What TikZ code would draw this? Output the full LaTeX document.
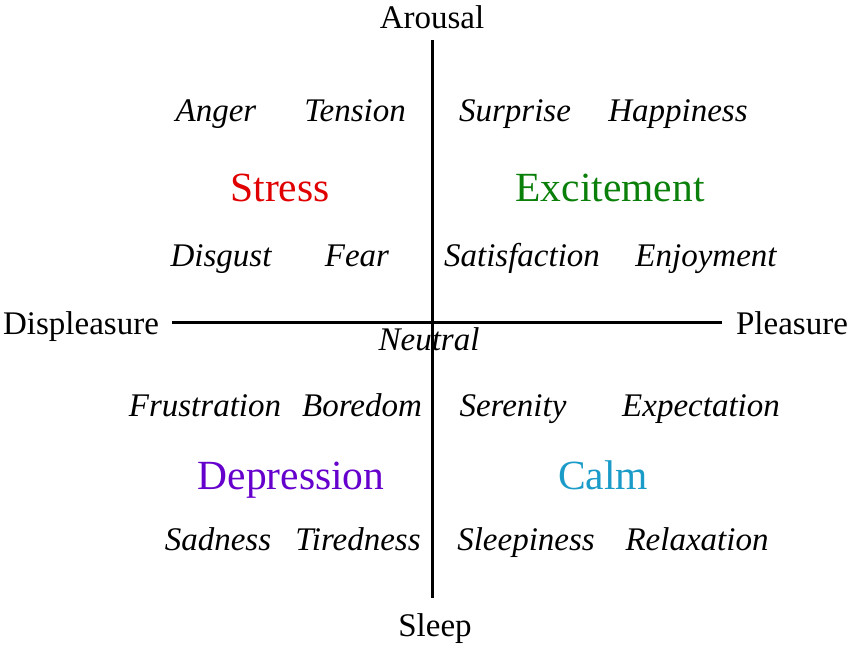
\documentclass[tikz,border=0pt]{standalone}
\usepackage{fontspec}
\setmainfont{Liberation Serif}
\definecolor{cstress}{HTML}{E00000}
\definecolor{cexcite}{HTML}{0A800A}
\definecolor{cdep}{HTML}{6600CC}
\definecolor{ccalm}{HTML}{1A9BC8}
\begin{document}
\begin{tikzpicture}[x=1pt,y=-1pt,
  lab/.style={font=\fontsize{33}{40}\selectfont, inner sep=0pt, anchor=base},
  emo/.style={font=\fontsize{33}{40}\selectfont\itshape, inner sep=0pt, anchor=base},
  big/.style={font=\fontsize{41.5}{50}\selectfont, inner sep=0pt, anchor=base},
  axis/.style={line width=3pt}]
\useasboundingbox (0,0) rectangle (850,645);
% axis end points
\coordinate (top) at (432,40);
\coordinate (bot) at (432,598);
\coordinate (left) at (172,322);
\coordinate (right) at (722,322);
\draw[axis] (top) -- (bot);
\draw[axis] (left) -- (right);
% axis labels
\node[lab] (arousal) at (432,28) {Arousal};
\node[lab] (sleep) at (435,636) {Sleep};
\node[lab] (displ) at (81,334) {Displeasure};
\node[lab] (pleas) at (792,334) {Pleasure};
\node[emo] (neutral) at (429,350) {Neutral};
% row 1
\node[emo] (anger) at (216,121) {Anger};
\node[emo] (tension) at (355,121) {Tension};
\node[emo] (surprise) at (515,121) {Surprise};
\node[emo] (happiness) at (678,121) {Happiness};
% quadrant titles
\node[big, text=cstress] (stress) at (280,201) {Stress};
\node[big, text=cexcite] (excitement) at (610,201) {Excitement};
% row 2
\node[emo] (disgust) at (221,266) {Disgust};
\node[emo] (fear) at (357,266) {Fear};
\node[emo] (satisfaction) at (522,266) {Satisfaction};
\node[emo] (enjoyment) at (706,266) {Enjoyment};
% row 3
\node[emo] (frustration) at (205,416) {Frustration};
\node[emo] (boredom) at (362,416) {Boredom};
\node[emo] (serenity) at (513,416) {Serenity};
\node[emo] (expectation) at (701,416) {Expectation};
% lower titles
\node[big, text=cdep] (depression) at (291,489) {Depression};
\node[big, text=ccalm] (calm) at (603,489) {Calm};
% row 4
\node[emo] (sadness) at (218,550) {Sadness};
\node[emo] (tiredness) at (358,550) {Tiredness};
\node[emo] (sleepiness) at (526,550) {Sleepiness};
\node[emo] (relaxation) at (697,550) {Relaxation};
\end{tikzpicture}
\end{document}
